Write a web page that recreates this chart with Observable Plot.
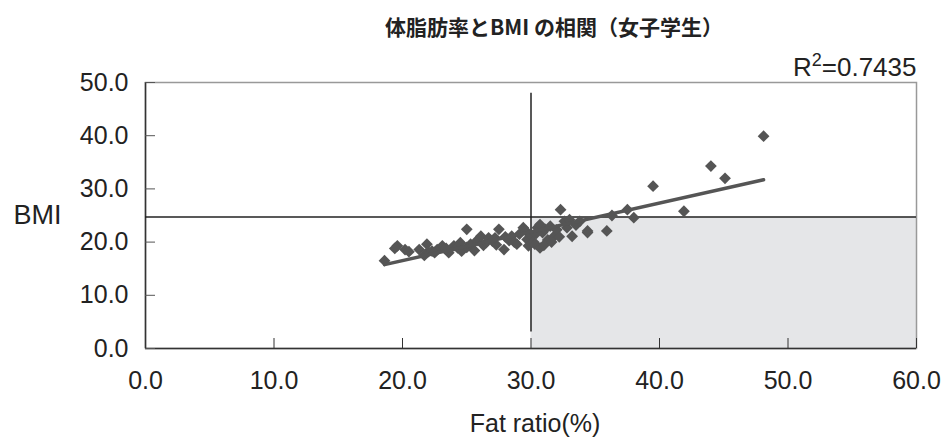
<!DOCTYPE html>
<html>
<head>
<meta charset="utf-8">
<script src="https://cdn.jsdelivr.net/npm/d3@7"></script>
<script src="https://cdn.jsdelivr.net/npm/@observablehq/plot@0.6"></script>
<style>
  html, body { margin: 0; padding: 0; background: #fff; }
</style>
</head>
<body>
<div id="chart"></div>
<script>
const title = "体脂肪率とBMI の相関（女子学生）";
const r2Label = "R²=0.7435";
const xLabel = "Fat ratio(%)";
const yLabel = "BMI";
const xTicks = [0, 10, 20, 30, 40, 50, 60];
const yTicks = [0, 10, 20, 30, 40, 50];
const bmiThreshold = 24.7;
const fatThreshold = 30;

const fatRatio = [
  18.6, 19.6, 19.4, 20.2, 20.5, 21.3, 21.7, 21.9, 22.0, 22.3,
  22.7, 22.5, 23.1, 23.6, 23.4, 24.0, 24.3, 24.5, 24.6, 25.0,
  25.0, 25.3, 25.6, 25.8, 26.1, 26.3, 26.7, 26.5, 27.0, 27.3,
  27.5, 27.2, 27.9, 28.0, 28.3, 28.5, 28.7, 28.9, 29.1, 29.4,
  29.6, 29.7, 29.8, 30.0, 30.2, 30.3, 30.5, 30.7, 30.7, 30.9,
  31.1, 31.3, 31.5, 31.8, 32.0, 32.3, 32.6, 32.8, 33.0, 33.2,
  33.5, 33.8, 34.4, 34.4, 35.9, 36.3, 37.5, 38.0, 39.5, 41.9,
  44.0, 45.1, 48.1, 31.0, 31.6, 32.2, 30.4
];
const bmi = [
  16.5, 19.3, 18.8, 18.6, 18.2, 18.6, 17.5, 19.6, 18.2, 18.3,
  18.6, 18.0, 19.3, 18.0, 18.8, 19.3, 18.9, 19.9, 18.3, 22.4,
  19.0, 19.6, 18.4, 20.3, 21.1, 19.4, 20.8, 19.9, 20.2, 19.5,
  22.4, 20.8, 18.6, 21.0, 20.3, 21.1, 20.0, 19.6, 21.5, 22.7,
  22.1, 20.5, 19.3, 21.2, 20.0, 19.6, 22.7, 23.3, 18.9, 21.8,
  22.4, 20.4, 23.0, 21.1, 22.3, 26.1, 23.9, 22.7, 24.2, 21.1,
  23.2, 23.9, 22.1, 21.8, 22.1, 25.0, 26.1, 24.6, 30.5, 25.8,
  34.3, 32.0, 39.9, 19.4, 20.0, 21.0, 21.6
];

const data = fatRatio.map((f, i) => ({fat: f, bmi: bmi[i]}));
const fmt = d3.format(".1f");

const chart = Plot.plot({
  width: 949,
  height: 438,
  marginLeft: 145,
  marginRight: 33,
  marginTop: 82,
  marginBottom: 90,
  style: {
    fontFamily: "'Liberation Sans', Arial, 'Noto Sans CJK JP', sans-serif",
    fontSize: "25px",
    color: "#222",
    background: "#fff"
  },
  x: {domain: [0, 60]},
  y: {domain: [0, 50]},
  marks: [
    Plot.rect([{x1: fatThreshold, x2: 60, y1: 0, y2: bmiThreshold}], {
      x1: "x1", x2: "x2", y1: "y1", y2: "y2", fill: "#e5e6e8"
    }),
    Plot.frame({stroke: "#999", strokeWidth: 1.5}),
    Plot.ruleY([0], {stroke: "#333", strokeWidth: 1.5}),
    Plot.ruleX([0], {stroke: "#333", strokeWidth: 1.5}),
    Plot.axisX({
      ticks: xTicks, tickFormat: fmt, tickSize: -10, tickPadding: 33,
      label: null, stroke: "#333", fontSize: 25
    }),
    Plot.axisY({
      ticks: yTicks, tickFormat: fmt, tickSize: -10, tickPadding: 27,
      label: null, stroke: "#555", fontSize: 25
    }),
    Plot.ruleY([bmiThreshold], {x1: 0, x2: 60, stroke: "#222", strokeWidth: 1.5}),
    Plot.ruleX([fatThreshold], {y1: 3.1, y2: 48, stroke: "#222", strokeWidth: 1.5}),
    Plot.dot(data, {
      x: "fat", y: "bmi", symbol: "diamond2", r: 5.3,
      fill: "#555", stroke: "none"
    }),
    Plot.linearRegressionY(data, {
      x: "fat", y: "bmi", ci: 0, stroke: "#555", strokeWidth: 3.5
    }),
    Plot.text([title], {
      frameAnchor: "top", dx: 23, dy: -62,
      fontFamily: "'Noto Sans CJK JP', sans-serif",
      fontWeight: "bold", fontSize: 21, fill: "#222"
    }),
    Plot.text([r2Label], {
      frameAnchor: "top-right", textAnchor: "end", dy: -25,
      fontSize: 26, fill: "#222", className: "r2-label"
    }),
    Plot.text([yLabel], {
      frameAnchor: "left", dx: -108, textAnchor: "middle",
      fontSize: 27, fill: "#222"
    }),
    Plot.text([xLabel], {
      frameAnchor: "bottom", dy: 83, dx: 4,
      fontSize: 25, fill: "#222"
    })
  ]
});

// render the R² with a real superscript 2
d3.select(chart).selectAll(".r2-label text").each(function () {
  const t = d3.select(this);
  const parts = t.text().split("²");
  t.text(null);
  t.append("tspan").text(parts[0]);
  t.append("tspan").attr("dy", -10).attr("font-size", 18).text("2");
  t.append("tspan").attr("dy", 10).text(parts[1]);
});

document.getElementById("chart").appendChild(chart);
</script>
</body>
</html>
